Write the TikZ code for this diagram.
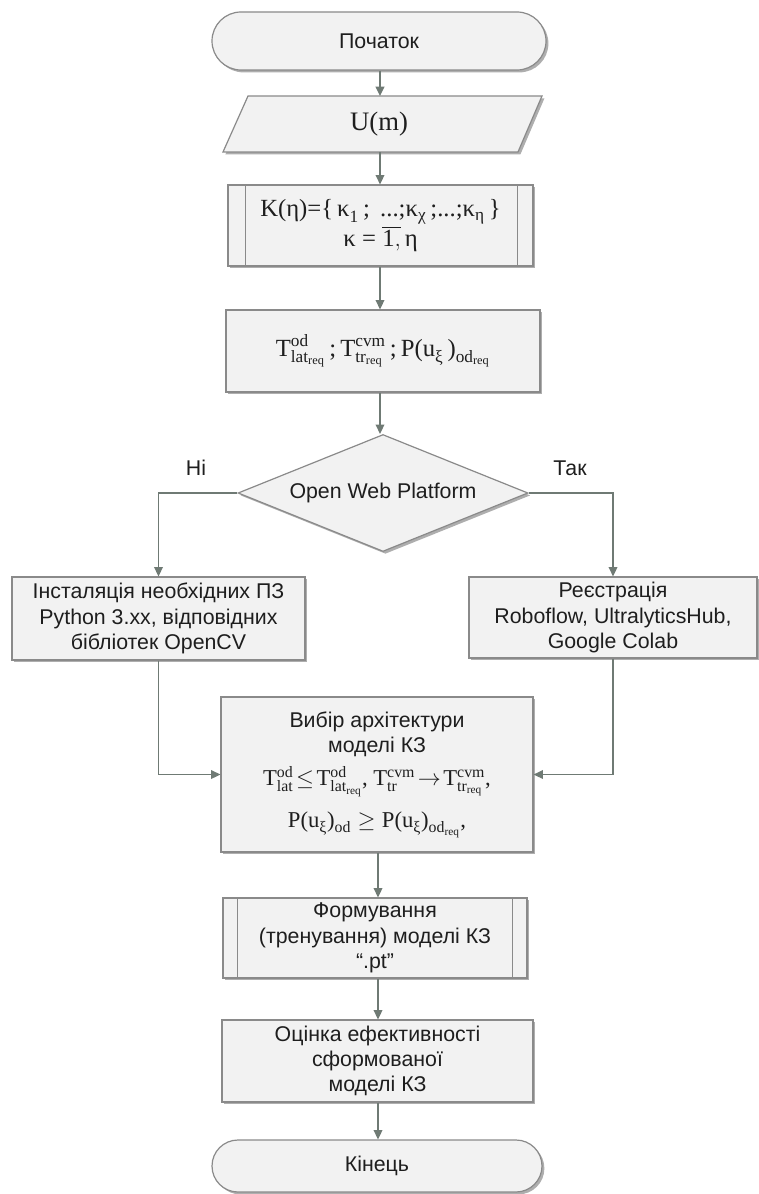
\documentclass[tikz,border=0pt]{standalone}
\usepackage{fontspec}
\usepackage{amsmath}
\setmainfont{Liberation Sans}
\newfontfamily\serif{Liberation Serif}
\usetikzlibrary{shapes.geometric,arrows.meta,shadows}
\definecolor{fillc}{HTML}{F2F2F2}
\definecolor{linec}{HTML}{6F7A74}
\definecolor{bordc}{HTML}{8A8A8A}
\definecolor{txtc}{HTML}{1E1E1E}
\definecolor{shadc}{HTML}{9A9A9A}
\newcommand\sr[1]{\text{\serif #1}}
\begin{document}
\begin{tikzpicture}[x=0.75pt,y=-0.75pt,
  shad/.style={drop shadow={shadow xshift=1.8pt,shadow yshift=-1.8pt,fill=shadc,opacity=0.8}},
  base/.style={draw=bordc, fill=fillc, line width=0.9pt, text=txtc, align=center,
    inner sep=2pt, font=\fontsize{16}{19}\selectfont, shad},
  procbox/.style={base, rectangle},
  termbox/.style={base, rectangle},
  decbox/.style={base, diamond, aspect=2.5, inner sep=0pt},
  conn/.style={draw=linec, line width=1.2pt, -{Triangle[length=7pt,width=6.5pt]}},
  lab/.style={text=txtc, font=\fontsize{16}{19}\selectfont}
]
\useasboundingbox (0,0) rectangle (759,1194);

% start
\node[termbox, rounded corners=21.75pt, minimum width=250.5pt, minimum height=43.5pt] (start) at (379,41) {Початок};

% input parallelogram
\fill[shadc, opacity=0.8] ([xshift=1.8pt,yshift=-1.8pt]223,152) -- ([xshift=1.8pt,yshift=-1.8pt]248,96) -- ([xshift=1.8pt,yshift=-1.8pt]542,96) -- ([xshift=1.8pt,yshift=-1.8pt]518,152) -- cycle;
\draw[draw=bordc, fill=fillc, line width=0.9pt] (223,152) -- (248,96) -- (542,96) -- (518,152) -- cycle;
\node[text=txtc, minimum height=42pt, inner sep=0pt, font=\fontsize{20}{24}\selectfont] (inp) at (379,124) {$\sr{U(m)}$};

% predefined process K
\node[procbox, minimum width=228.75pt, minimum height=60.75pt, font=\fontsize{18.5}{20}\selectfont] (kset) at (380.5,225.5)
  {$\sr{K(η)=\{\,κ}_{\sr{1}}\sr{\,; \,...;κ}_{\sr{χ}}\sr{\,;...;κ}_{\sr{η}}\sr{\,\}}$\\[0pt]
   $\sr{κ}\mathrel{\sr{=}}\overline{\sr{1},}\,\sr{η}$};
\draw[bordc, line width=0.9pt] ([xshift=13.5pt]kset.north west) -- ([xshift=13.5pt]kset.south west);
\draw[bordc, line width=0.9pt] ([xshift=-12pt]kset.north east) -- ([xshift=-12pt]kset.south east);

% requirements
\node[procbox, minimum width=235.5pt, minimum height=61.5pt, font=\fontsize{18.5}{22}\selectfont] (req) at (383,351)
  {$\sr{T}^{\sr{od}}_{\sr{lat}_{\sr{req}}}\sr{\,;\,}\sr{T}^{\sr{cvm}}_{\sr{tr}_{\sr{req}}}\sr{\,;\,}\sr{P(u}_{\sr{ξ}}\sr{\,)}_{\sr{od}_{\sr{req}}}$};

% decision
\node[decbox, minimum width=217.5pt, minimum height=87.75pt] (dec) at (383,493) {Open Web Platform};

% branches
\node[procbox, minimum width=219.75pt, minimum height=62.25pt] (inst) at (158.5,618.5)
  {Інсталяція необхідних ПЗ\\Python 3.xx, відповідних\\бібліотек OpenCV};
\node[procbox, minimum width=216pt, minimum height=60.75pt] (reg) at (613,617.5)
  {Реєстрація\\Roboflow, UltralyticsHub,\\Google Colab};

% architecture choice
\node[procbox, minimum width=234pt, minimum height=116.25pt] (arch) at (377,774.5)
  {Вибір архітектури\\моделі КЗ\\[6pt]
   {\fontsize{17}{20}\selectfont$\sr{T}^{\sr{od}}_{\sr{lat}}\mathrel{\!\le\!}\sr{T}^{\sr{od}}_{\sr{lat}_{\sr{req}}}\sr{, }\sr{T}^{\sr{cvm}}_{\sr{tr}}\mathrel{\!\to\!}\sr{T}^{\sr{cvm}}_{\sr{tr}_{\sr{req}}}\sr{,}$}\\[10pt]
   {\fontsize{17}{20}\selectfont$\sr{P(u}_{\sr{ξ}}\sr{)}_{\sr{od}}\ge\sr{P(u}_{\sr{ξ}}\sr{)}_{\sr{od}_{\sr{req}}}\sr{,}$}};

% training (predefined process)
\node[procbox, minimum width=228pt, minimum height=60pt] (train) at (375,938)
  {Формування\\(тренування) моделі КЗ\\“.pt”};
\draw[bordc, line width=0.9pt] ([xshift=11.25pt]train.north west) -- ([xshift=11.25pt]train.south west);
\draw[bordc, line width=0.9pt] ([xshift=-11.25pt]train.north east) -- ([xshift=-11.25pt]train.south east);

% evaluation
\node[procbox, minimum width=233.25pt, minimum height=61.5pt] (eval) at (377.5,1061)
  {Оцінка ефективності\\сформованої\\моделі КЗ};

% end
\node[termbox, rounded corners=19.5pt, minimum width=247.5pt, minimum height=39pt] (end) at (377,1166) {Кінець};

% connectors
\coordinate (c1) at (380,0);
\coordinate (c2) at (378,0);
\draw[conn] (start.south -| c1) -- (c1 |- 0,96);
\draw[conn] (inp.south -| c1) -- (c1 |- kset.north);
\draw[conn] (kset.south -| c1) -- (c1 |- req.north);
\draw[conn] (req.south -| c1) -- (c1 |- dec.north);
\draw[conn] (dec.west) -| (inst.north);
\draw[conn] (dec.east) -| (reg.north);
\draw[conn] (inst.south) |- (arch.west);
\draw[conn] (reg.south) |- (arch.east);
\draw[conn] (arch.south -| c2) -- (c2 |- train.north);
\draw[conn] (train.south -| c2) -- (c2 |- eval.north);
\draw[conn] (eval.south -| c2) -- (c2 |- end.north);

% labels
\node[lab] (no) at (196,468) {Ні};
\node[lab] (yes) at (570,468) {Так};
\end{tikzpicture}
\end{document}
